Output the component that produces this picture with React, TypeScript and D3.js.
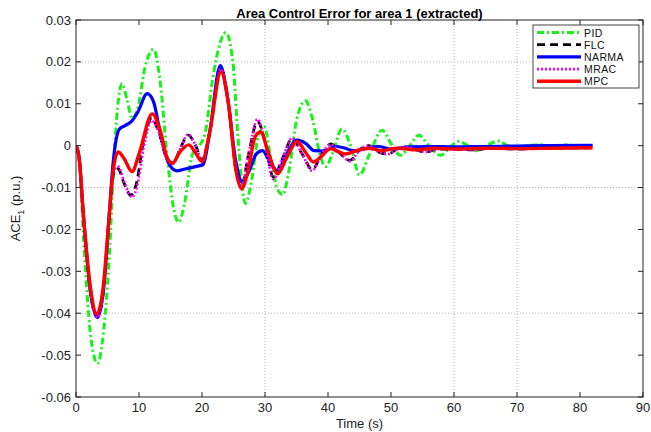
import React from "react";
import * as d3 from "d3";

// ---- data (time in s, ACE in p.u.) ----
const pidT = [0,0.5,1.2,2.3,3.4,4.4,5.3,6.0,6.6,7.3,8.1,8.9,9.8,11.0,12.3,13.3,14.5,15.5,16.3,17.2,18.5,19.6,20.5,21.8,23.8,24.9,25.8,26.9,27.9,28.9,29.9,30.9,32.0,32.8,33.8,35.0,36.4,37.6,38.7,39.6,40.7,42.2,43.6,45.0,46.6,48.6,50.0,51.5,53.0,54.4,56.0,57.9,59.4,60.7,62.2,63.5,65.2,67.0,68.5,70,72,74,76,78,80,82];
const pidV = [0,-0.003,-0.022,-0.045,-0.052,-0.044,-0.026,-0.004,0.009,0.0148,0.011,0.0065,0.009,0.019,0.023,0.016,-0.003,-0.015,-0.0183,-0.014,-0.002,0.0,0.003,0.017,0.027,0.02,0.0,-0.0138,-0.008,0.002,0.0045,-0.003,-0.0105,-0.0117,-0.006,0.006,0.0107,0.006,-0.002,-0.005,-0.002,0.004,0.0,-0.007,-0.002,0.0037,0.0005,-0.0023,0.0,0.0025,0.0,-0.0023,-0.0003,0.001,0.0,-0.0012,0.0,0.0011,0.0,-0.0006,0.0001,0.0002,-0.0003,0.0002,-0.0002,0];

const flcT = [0,0.5,1.2,2.3,3.4,4.4,5.3,6.0,6.7,7.5,8.7,9.6,10.6,12.0,13.2,14.4,15.4,16.6,17.8,19.0,20.0,21.2,23.0,24.2,25.4,26.3,27.4,28.8,30.0,31.3,32.8,34.3,35.9,37.5,39.0,40.5,42.0,43.5,45.0,46.5,48.0,49.5,51.0,52.5,54.0,55.5,57.5,60,63,66,70,75,82];
const flcV = [0,-0.003,-0.017,-0.035,-0.041,-0.034,-0.017,-0.0065,-0.0055,-0.0085,-0.0118,-0.009,0.0,0.0065,0.003,-0.003,-0.0042,-0.0005,0.0025,0.0,-0.0035,0.003,0.0185,0.01,-0.006,-0.0095,-0.002,0.0058,0.001,-0.0075,-0.003,0.0017,-0.002,-0.0057,-0.002,0.0004,-0.002,-0.0035,-0.001,0.0,-0.0015,-0.002,-0.0008,-0.0003,-0.001,-0.0015,-0.0008,-0.0008,-0.001,-0.0006,-0.0008,-0.0006,-0.0005];

const narmaT = [0,0.5,1.2,2.3,3.4,4.4,5.3,5.9,6.9,7.8,8.8,9.8,11.3,12.3,13.5,14.8,16.1,17.5,19.0,20.2,21.3,22.9,24.0,25.4,26.4,27.5,28.6,29.6,30.8,32.0,33.4,35.1,36.5,37.8,39.5,41,42.5,44,46,48,50,53,56,60,65,70,75,82];
const narmaV = [0,-0.003,-0.017,-0.035,-0.041,-0.034,-0.016,-0.004,0.004,0.0048,0.0058,0.008,0.0124,0.0105,0.002,-0.0045,-0.006,-0.0055,-0.005,-0.0045,0.004,0.0191,0.012,-0.004,-0.0087,-0.006,-0.002,-0.0012,-0.004,-0.006,-0.002,0.0013,0.0005,-0.0012,-0.0013,-0.0002,-0.0005,-0.0012,-0.0007,-0.0002,-0.0008,-0.0003,-0.0002,-0.0003,-0.0002,-0.0001,0,0.0001];

const mracT = [0,0.5,1.2,2.3,3.4,4.4,5.3,6.0,6.7,7.6,8.9,9.8,10.8,12.0,13.2,14.4,15.4,16.6,17.8,19.0,20.0,21.2,23.0,24.2,25.4,26.3,27.4,28.8,30.0,31.3,32.8,34.3,35.9,37.5,39.0,40.5,42.0,43.5,45.0,46.5,48.0,49.5,51.0,52.5,54.0,55.5,57.5,60,63,66,70,75,82];
const mracV = [0,-0.003,-0.017,-0.035,-0.041,-0.034,-0.017,-0.006,-0.005,-0.0085,-0.0123,-0.009,0.0,0.006,0.003,-0.003,-0.0043,-0.0005,0.0027,0.0,-0.0035,0.003,0.0183,0.01,-0.006,-0.0095,-0.002,0.0063,0.001,-0.008,-0.003,0.0018,-0.002,-0.006,-0.002,0.0003,-0.002,-0.0037,-0.001,0.0,-0.0015,-0.002,-0.0008,-0.0003,-0.001,-0.0015,-0.0008,-0.0009,-0.001,-0.0006,-0.0008,-0.0006,-0.0005];

const mpcT = [0,0.5,1.2,2.3,3.3,4.3,5.2,5.9,6.7,7.6,8.9,10.0,12.1,13.3,14.5,15.3,16.5,17.9,19.0,20.0,21.2,23.0,24.2,25.4,26.3,27.3,28.4,29.3,30.4,32,33.4,35.1,36.4,37.7,39,40.4,41.7,42.8,44.5,46.5,48.5,51,54,57,60,65,70,75,82];
const mpcV = [0,-0.003,-0.017,-0.034,-0.0402,-0.034,-0.018,-0.006,-0.0015,-0.003,-0.0062,-0.002,0.0076,0.004,-0.003,-0.0042,-0.0015,0.0002,-0.0018,-0.0038,0.003,0.0176,0.01,-0.006,-0.0103,-0.006,0.002,0.0033,-0.001,-0.0067,-0.003,0.001,-0.0015,-0.0039,-0.0025,-0.0007,-0.0015,-0.002,-0.0012,-0.0006,-0.0012,-0.0006,-0.001,-0.0006,-0.0008,-0.0006,-0.0007,-0.0006,-0.0005];

const xTicks = [0,10,20,30,40,50,60,70,80,90];
const yTicks = [0.03,0.02,0.01,0,-0.01,-0.02,-0.03,-0.04,-0.05,-0.06];
const yTickLabels = ["0.03","0.02","0.01","0","-0.01","-0.02","-0.03","-0.04","-0.05","-0.06"];
const xGrid = [30,60,70];
const yGrid = [0.02,-0.01,-0.04];
const seriesNames = ["PID","FLC","NARMA","MRAC","MPC"];

const styles = [
  { color: "#1af01a", width: 3, dash: "7,3,2,3" },
  { color: "#000000", width: 2.8, dash: "8,5" },
  { color: "#0000ff", width: 3.2, dash: "" },
  { color: "#ff00ff", width: 2.6, dash: "2,2" },
  { color: "#ff0000", width: 3.4, dash: "" },
];

const W = 651, H = 432;
const L = 76, R = 643, T = 20, B = 397;

export default function App() {
  const x = d3.scaleLinear().domain([0, 90]).range([L, R]);
  const y = d3.scaleLinear().domain([-0.06, 0.03]).range([B, T]);
  const line = d3.line<[number, number]>()
    .x(d => x(d[0])).y(d => y(d[1])).curve(d3.curveMonotoneX);
  const data = [
    d3.zip(pidT, pidV),
    d3.zip(flcT, flcV),
    d3.zip(narmaT, narmaV),
    d3.zip(mracT, mracV),
    d3.zip(mpcT, mpcV),
  ] as [number, number][][];
  const font = "Arial, 'Liberation Sans', sans-serif";
  const legX = 533, legY = 25, legW = 106, legH = 63;
  return (
    <svg width={W} height={H} style={{ position: "absolute", left: 0, top: 0, background: "#fff" }} fontFamily={font}>
      <rect x={0} y={0} width={W} height={H} fill="#fff" />
      {xGrid.map(v => (
        <line key={"gx" + v} x1={x(v)} x2={x(v)} y1={T} y2={B} stroke="#b0b0b0" strokeWidth={1} strokeDasharray="1,2" />
      ))}
      {yGrid.map(v => (
        <line key={"gy" + v} x1={L} x2={R} y1={y(v)} y2={y(v)} stroke="#b0b0b0" strokeWidth={1} strokeDasharray="1,2" />
      ))}
      <defs>
        <clipPath id="clip"><rect x={L} y={T} width={R - L} height={B - T} /></clipPath>
      </defs>
      <g clipPath="url(#clip)">
        {data.map((d, i) => (
          <path key={i} d={line(d) || ""} fill="none" stroke={styles[i].color} strokeWidth={styles[i].width}
            strokeDasharray={styles[i].dash || undefined} strokeLinejoin="round" />
        ))}
      </g>
      <rect x={L} y={T} width={R - L} height={B - T} fill="none" stroke="#222" strokeWidth={1} />
      {xTicks.map(v => (
        <g key={"xt" + v}>
          <line x1={x(v)} x2={x(v)} y1={B} y2={B - 5} stroke="#222" />
          <line x1={x(v)} x2={x(v)} y1={T} y2={T + 5} stroke="#222" />
          <text x={x(v)} y={412} fontSize={13} textAnchor="middle" fill="#222">{v}</text>
        </g>
      ))}
      {yTicks.map((v, i) => (
        <g key={"yt" + i}>
          <line x1={L} x2={L + 5} y1={y(v)} y2={y(v)} stroke="#222" />
          <line x1={R} x2={R - 5} y1={y(v)} y2={y(v)} stroke="#222" />
          <text x={71} y={y(v) + 4.5} fontSize={13} textAnchor="end" fill="#222">{yTickLabels[i]}</text>
        </g>
      ))}
      <text x={(L + R) / 2} y={428} fontSize={13} textAnchor="middle" fill="#222">Time (s)</text>
      <text transform={`translate(20,${(T + B) / 2}) rotate(-90)`} fontSize={13} textAnchor="middle" fill="#222">
        ACE<tspan fontSize={9} dy={4}>1</tspan><tspan dy={-4}> (p.u.)</tspan>
      </text>
      <text x={(L + R) / 2} y={18} fontSize={13} fontWeight="bold" textAnchor="middle" fill="#000">
        Area Control Error for area 1 (extracted)
      </text>
      <rect x={legX} y={legY} width={legW} height={legH} fill="#fff" stroke="#444" strokeWidth={1} />
      {seriesNames.map((n, i) => {
        const cy = legY + 7.5 + i * 12.2;
        return (
          <g key={n}>
            <line x1={legX + 4} x2={legX + 48} y1={cy} y2={cy} stroke={styles[i].color} strokeWidth={styles[i].width}
              strokeDasharray={styles[i].dash || undefined} />
            <text x={legX + 51} y={cy + 4} fontSize={10.5} letterSpacing={0.4} fill="#111">{n}</text>
          </g>
        );
      })}
    </svg>
  );
}
